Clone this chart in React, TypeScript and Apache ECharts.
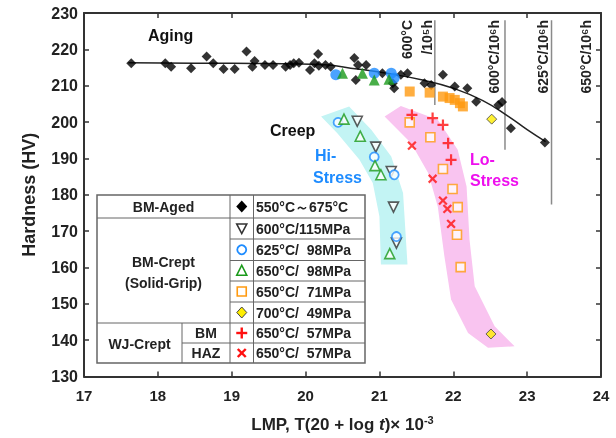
import React, { useEffect, useRef } from "react";
import * as echarts from "echarts";

const FONT = '"Liberation Sans", Arial, Helvetica, sans-serif';

// ---- data (LMP, Hardness HV) ----
const agingPts: [number, number][] = [
  [17.64, 216.2], [18.10, 216.2], [18.18, 215.2], [18.45, 214.8], [18.66, 218.0],
  [18.75, 216.2], [18.89, 214.6], [19.04, 214.6], [19.20, 219.4], [19.31, 216.8],
  [19.28, 215.2], [19.45, 215.7], [19.56, 215.7], [19.73, 215.2], [19.79, 215.7],
  [19.84, 216.2], [19.91, 216.3], [20.06, 214.3], [20.12, 216.2], [20.17, 218.7],
  [20.18, 215.5], [20.27, 215.7], [20.34, 215.2], [20.66, 217.6], [20.71, 215.7],
  [20.68, 211.6], [20.82, 215.7], [21.04, 213.4], [21.18, 210.7], [21.29, 213.0],
  [21.38, 213.4], [21.20, 209.3], [21.61, 210.7], [21.70, 210.2], [21.86, 213.0],
  [22.02, 209.8], [22.19, 209.3], [22.31, 205.6], [22.61, 204.7], [22.66, 205.5],
  [22.78, 198.3], [23.24, 194.4],
];
const agingFit: [number, number][] = [
  [17.6, 216.3], [18.5, 216.2], [19.5, 216.1], [20.2, 215.8], [20.7, 214.6],
  [21.1, 213.4], [21.6, 211.5], [22.0, 209.3], [22.4, 205.9], [22.75, 201.5],
  [23.0, 197.9], [23.25, 194.6],
];
const grip625: [number, number][] = [[20.41, 213.0], [20.93, 213.4], [21.16, 213.4], [21.20, 212.1]];
const grip650: [number, number][] = [[20.50, 213.4], [20.77, 213.4], [20.93, 211.6], [21.13, 211.8]];
const grip650lo: [number, number][] = [
  [21.41, 208.4], [21.68, 208.1], [21.86, 207.0], [21.95, 206.6], [22.02, 206.1], [22.09, 205.2], [22.13, 204.3],
];
const crept600_115: [number, number][] = [[20.70, 200.2], [20.95, 193.1], [21.16, 186.4], [21.19, 176.6], [21.23, 166.7]];
const crept625_98: [number, number][] = [[20.44, 199.9], [20.93, 190.4], [21.20, 185.5], [21.23, 168.5]];
const crept650_98: [number, number][] = [[20.52, 200.8], [20.74, 196.1], [20.94, 188.0], [21.02, 185.5], [21.14, 163.8]];
const crept650_71: [number, number][] = [
  [21.41, 199.9], [21.69, 195.8], [21.86, 187.1], [21.99, 181.6], [22.06, 176.6], [22.05, 169.0], [22.10, 160.1],
];
const crept700_49: [number, number][] = [[22.52, 200.8], [22.51, 141.7]];
const wjBM: [number, number][] = [[21.44, 202.0], [21.72, 201.1], [21.86, 199.2], [21.93, 194.2], [21.97, 189.6]];
const wjHAZ: [number, number][] = [[21.44, 193.5], [21.72, 184.4], [21.86, 178.4], [21.92, 176.1], [21.97, 172.0]];

const hiBand: [number, number][] = [
  [20.21, 201.5], [20.59, 204.3], [20.89, 197.9], [21.16, 190.5], [21.32, 180.5], [21.38, 160.8],
  [21.02, 160.8], [21.0, 174.0], [20.91, 183.2], [20.73, 189.6], [20.43, 196.9],
];
const loBand: [number, number][] = [
  [21.07, 201.5], [21.29, 204.4], [21.79, 200.6], [22.06, 192.4], [22.18, 182.3], [22.22, 167.6],
  [22.29, 154.8], [22.56, 143.8], [22.83, 138.3], [22.47, 137.9], [22.20, 142.0], [21.97, 151.2],
  [21.88, 163.0], [21.79, 176.8], [21.66, 186.0], [21.43, 194.2],
];

const refLines = [
  { lmp: 21.75, top: 228, bottom: 204.7 },
  { lmp: 22.70, top: 228, bottom: 192.4 },
  { lmp: 23.33, top: 228, bottom: 177.3 },
];
const refLabels = [
  { text: "600°C", x: 407 },
  { text: "/10⁵h", x: 427 },
  { text: "600°C/10⁶h", x: 494 },
  { text: "625°C/10⁶h", x: 543 },
  { text: "650°C/10⁶h", x: 586 },
];

const tableCol1 = ["BM-Aged", "BM-Crept", "(Solid-Grip)", "WJ-Crept", "BM", "HAZ"];
const tableCol3 = [
  "550°C～675°C", "600°C/115MPa", "625°C/  98MPa", "650°C/  98MPa",
  "650°C/  71MPa", "700°C/  49MPa", "650°C/  57MPa", "650°C/  57MPa",
];

const PLUS = "path://M4,0h2v4h4v2h-4v4h-2v-4h-4v-2h4z";

const BLUE = "#1e8cff";
const GREEN = "#1a9a1a";
const ORANGE = "#ff9a10";
const RED = "#ff1010";

function buildTable(): any[] {
  const L = 97, R = 365, T = 195, B = 363;
  const c1 = 230, c2 = 253.5, cSplit = 182;
  const rows = [195, 218, 239, 260.5, 281, 302, 323, 343, 363];
  const stroke = "#666";
  const els: any[] = [];
  els.push({ type: "rect", shape: { x: L, y: T, width: R - L, height: B - T }, style: { fill: "#fff", stroke, lineWidth: 1.5 }, z: 100 });
  const hl = (x1: number, x2: number, y: number) =>
    els.push({ type: "line", shape: { x1, y1: y, x2, y2: y }, style: { stroke, lineWidth: 1 }, z: 101 });
  const vl = (x: number, y1: number, y2: number) =>
    els.push({ type: "line", shape: { x1: x, y1, x2: x, y2 }, style: { stroke, lineWidth: 1 }, z: 101 });
  hl(L, R, rows[1]);
  for (let i = 2; i <= 5; i++) hl(c1, R, rows[i]);
  hl(L, R, rows[6]);
  hl(cSplit, R, rows[7]);
  vl(c1, T, B);
  vl(c2, T, B);
  vl(cSplit, rows[6], B);

  const txt = (text: string, x: number, y: number, align: string) =>
    els.push({
      type: "text", x, y, z: 102,
      style: { text, fill: "#222", font: `bold 14px ${FONT}`, align, verticalAlign: "middle" },
    });
  const cy = (i: number) => (rows[i] + rows[i + 1]) / 2;
  txt(tableCol1[0], (L + c1) / 2, cy(0), "center");
  txt(tableCol1[1], (L + c1) / 2, 262, "center");
  txt(tableCol1[2], (L + c1) / 2, 283, "center");
  txt(tableCol1[3], (L + cSplit) / 2, 344, "center");
  txt(tableCol1[4], (cSplit + c1) / 2, cy(6), "center");
  txt(tableCol1[5], (cSplit + c1) / 2, cy(7), "center");
  tableCol3.forEach((t, i) => txt(t, 256, cy(i), "left"));

  const mx = (c1 + c2) / 2;
  const m = (i: number) => cy(i);
  const z = 103;
  els.push({ type: "polygon", z, shape: { points: [[mx, m(0) - 6], [mx + 5.5, m(0)], [mx, m(0) + 6], [mx - 5.5, m(0)]] }, style: { fill: "#000" } });
  els.push({ type: "polygon", z, shape: { points: [[mx - 5, m(1) - 4.5], [mx + 5, m(1) - 4.5], [mx, m(1) + 5]] }, style: { fill: "#fff", stroke: "#333", lineWidth: 1.6 } });
  els.push({ type: "circle", z, shape: { cx: mx, cy: m(2), r: 4.5 }, style: { fill: "#fff", stroke: BLUE, lineWidth: 1.8 } });
  els.push({ type: "polygon", z, shape: { points: [[mx, m(3) - 5.5], [mx + 5, m(3) + 4.5], [mx - 5, m(3) + 4.5]] }, style: { fill: "#fff", stroke: GREEN, lineWidth: 1.6 } });
  els.push({ type: "rect", z, shape: { x: mx - 4.5, y: m(4) - 4.5, width: 9, height: 9 }, style: { fill: "#fff", stroke: ORANGE, lineWidth: 1.6 } });
  els.push({ type: "polygon", z, shape: { points: [[mx, m(5) - 5.5], [mx + 5, m(5)], [mx, m(5) + 5.5], [mx - 5, m(5)]] }, style: { fill: "#ffee00", stroke: "#444", lineWidth: 1 } });
  els.push({ type: "line", z, shape: { x1: mx - 5.5, y1: m(6), x2: mx + 5.5, y2: m(6) }, style: { stroke: RED, lineWidth: 2.4 } });
  els.push({ type: "line", z, shape: { x1: mx, y1: m(6) - 5.5, x2: mx, y2: m(6) + 5.5 }, style: { stroke: RED, lineWidth: 2.4 } });
  els.push({ type: "line", z, shape: { x1: mx - 4, y1: m(7) - 4, x2: mx + 4, y2: m(7) + 4 }, style: { stroke: RED, lineWidth: 2.4 } });
  els.push({ type: "line", z, shape: { x1: mx - 4, y1: m(7) + 4, x2: mx + 4, y2: m(7) - 4 }, style: { stroke: RED, lineWidth: 2.4 } });
  return els;
}

function annotations(): any[] {
  const els: any[] = [];
  const t = (text: string, x: number, y: number, fill: string) =>
    els.push({ type: "text", x, y, z: 90, style: { text, fill, font: `bold 16px ${FONT}`, align: "left", verticalAlign: "middle" } });
  t("Aging", 148, 35, "#111");
  t("Creep", 270, 130, "#111");
  t("Hi-", 315, 155, BLUE);
  t("Stress", 313, 177, BLUE);
  t("Lo-", 470, 159, "#ee10ee");
  t("Stress", 470, 180, "#ee10ee");
  refLabels.forEach((r) =>
    els.push({
      type: "text", x: r.x, y: 20, rotation: Math.PI / 2, z: 90,
      style: { text: r.text, fill: "#222", font: `bold 14px ${FONT}`, align: "right", verticalAlign: "middle" },
    })
  );
  return els;
}

function polySeries(points: [number, number][], fill: string) {
  return {
    type: "custom",
    coordinateSystem: "cartesian2d",
    silent: true,
    z: 1,
    data: [points[0]],
    renderItem: (_p: any, api: any) => ({
      type: "polygon",
      shape: { points: points.map((p) => api.coord(p)) },
      style: { fill },
    }),
  };
}

function scatter(data: [number, number][], symbol: string, size: number, style: any, extra: any = {}) {
  return { type: "scatter", data, symbol, symbolSize: size, itemStyle: style, z: 5, ...extra };
}

export default function App() {
  const ref = useRef<HTMLDivElement>(null);
  useEffect(() => {
    if (!ref.current) return;
    const chart = echarts.init(ref.current, null, { renderer: "svg" });
    const axisLine = { show: true, onZero: false, lineStyle: { color: "#333", width: 2 } };
    const tick = { show: true, inside: true, length: 5, lineStyle: { color: "#333", width: 1.5 } };
    const series: any[] = [
      polySeries(hiBand, "#c3f4f4"),
      polySeries(loBand, "#f9c4f0"),
      ...refLines.map((r) => ({
        type: "line", data: [[r.lmp, r.top], [r.lmp, r.bottom]], symbol: "none", z: 2,
        lineStyle: { color: "#8a8a8a", width: 1.5 },
      })),
      { type: "line", data: agingFit, smooth: true, symbol: "none", z: 3, lineStyle: { color: "#222", width: 1.5 } },
      scatter(agingPts, "diamond", 10, { color: "#000" }),
      scatter(grip625, "circle", 11, { color: BLUE }),
      scatter(grip650, "triangle", 11, { color: GREEN }),
      scatter(grip650lo, "rect", 10, { color: ORANGE }),
      scatter(crept600_115, "triangle", 10, { color: "#fff", borderColor: "#333", borderWidth: 1.6 }, { symbolRotate: 180 }),
      scatter(crept625_98, "circle", 9, { color: "#fff", borderColor: BLUE, borderWidth: 1.8 }),
      scatter(crept650_98, "triangle", 10, { color: "#fff", borderColor: GREEN, borderWidth: 1.6 }),
      scatter(crept650_71, "rect", 9, { color: "#fff", borderColor: ORANGE, borderWidth: 1.6 }),
      scatter(crept700_49, "diamond", 10, { color: "#ffee00", borderColor: "#444", borderWidth: 1 }),
      scatter(wjBM, PLUS, 11, { color: RED }),
      scatter(wjHAZ, PLUS, 11, { color: RED }, { symbolRotate: 45 }),
    ];
    chart.setOption({
      animation: false,
      grid: { left: 84, right: 15, top: 13, bottom: 61 },
      xAxis: [
        {
          type: "value", min: 17, max: 24, interval: 1, position: "bottom",
          axisLine, axisTick: tick, splitLine: { show: false },
          axisLabel: { color: "#222", fontSize: 15, fontWeight: "bold", fontFamily: FONT, margin: 11 },
          name: "{b|LMP, T(20 + log }{i|t}{b|)× 10}{s|-3}",
          nameLocation: "middle", nameGap: 38,
          nameTextStyle: {
            rich: {
              b: { fontSize: 17, fontWeight: "bold", fontFamily: FONT, color: "#222" },
              i: { fontSize: 17, fontWeight: "bold", fontStyle: "italic", fontFamily: FONT, color: "#222" },
              s: { fontSize: 11, fontWeight: "bold", fontFamily: FONT, color: "#222", padding: [0, 0, 9, 0] },
            },
          },
        },
        {
          type: "value", min: 17, max: 24, interval: 1, position: "top",
          axisLine, axisTick: tick, axisLabel: { show: false }, splitLine: { show: false },
        },
      ],
      yAxis: [
        {
          type: "value", min: 130, max: 230, interval: 10, position: "left",
          axisLine, axisTick: tick, splitLine: { show: false },
          axisLabel: { color: "#222", fontSize: 16, fontWeight: "bold", fontFamily: FONT, margin: 6 },
          name: "Hardness (HV)", nameLocation: "middle", nameGap: 46,
          nameTextStyle: { fontSize: 18, fontWeight: "bold", fontFamily: FONT, color: "#222" },
        },
        {
          type: "value", min: 130, max: 230, interval: 10, position: "right",
          axisLine, axisTick: tick, axisLabel: { show: false }, splitLine: { show: false },
        },
      ],
      series,
      graphic: [...annotations(), ...buildTable()],
    });
    return () => chart.dispose();
  }, []);
  return <div ref={ref} style={{ position: "fixed", left: 0, top: 0, width: 616, height: 438 }} />;
}
